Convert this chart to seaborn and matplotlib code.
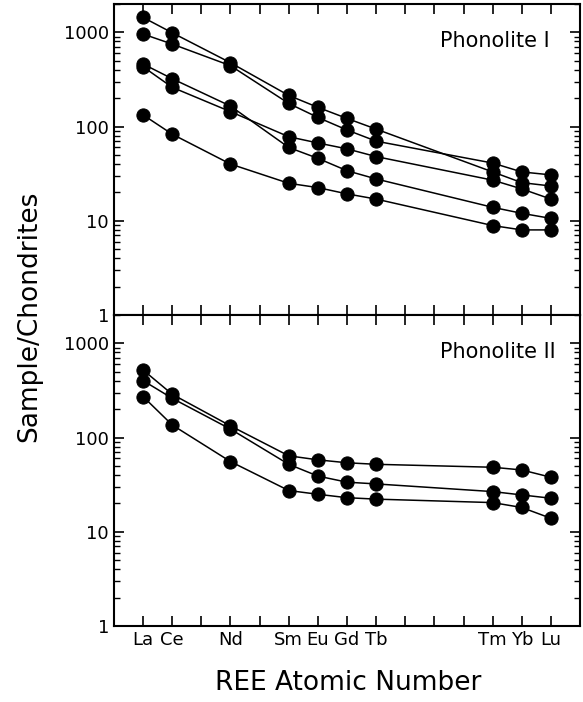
import numpy as np
import pandas as pd
import matplotlib
matplotlib.use("Agg")
import matplotlib.pyplot as plt
import seaborn as sns
from matplotlib.ticker import LogLocator, NullFormatter, FixedLocator

sns.set_style("ticks")
plt.rcParams['font.family'] = ['DejaVu Sans']
plt.rcParams['text.color'] = 'black'
plt.rcParams['xtick.color'] = 'black'
plt.rcParams['ytick.color'] = 'black'

# REE elements and their atomic numbers
elements = ["La", "Ce", "Nd", "Sm", "Eu", "Gd", "Tb", "Tm", "Yb", "Lu"]
atomic_no = [57, 58, 60, 62, 63, 64, 65, 69, 70, 71]

# Phonolite I (chondrite-normalised)
ph1_s1 = [1440, 990, 476, 214, 160, 122, 94, 33, 25.4, 23.4]
ph1_s2 = [959, 751, 443, 176, 125, 92, 70, 41, 33, 30.7]
ph1_s3 = [461, 322, 165, 60, 46, 34, 27.8, 13.9, 12, 10.6]
ph1_s4 = [431, 261, 144, 78, 67, 58, 48, 27, 21.8, 17]
ph1_s5 = [133, 83, 40, 25, 22.5, 19.3, 17, 8.9, 8.0, 8.0]

# Phonolite II
ph2_s1 = [521, 288, 133, 64, 58, 54, 52, 48.4, 45.3, 37.9]
ph2_s2 = [402, 261, 123, 52, 39, 33.6, 32.2, 26.7, 24.6, 22.7]
ph2_s3 = [272, 136, 55.6, 27.4, 25, 23, 22.2, 20.4, 18.1, 13.9]


def long_form(series_list):
    rows = []
    for i, vals in enumerate(series_list):
        for z, v in zip(atomic_no, vals):
            rows.append({"sample": i, "Z": z, "value": v})
    return pd.DataFrame(rows)


df1 = long_form([ph1_s1, ph1_s2, ph1_s3, ph1_s4, ph1_s5])
df2 = long_form([ph2_s1, ph2_s2, ph2_s3])

fig, axes = plt.subplots(2, 1, figsize=(5.83, 7.02), dpi=100, sharex=True)
fig.subplots_adjust(left=0.1955, right=0.9949, top=0.9943, bottom=0.1083, hspace=0)

for ax, df, name in zip(axes, [df1, df2], ["Phonolite I", "Phonolite II"]):
    sns.lineplot(data=df, x="Z", y="value", units="sample", estimator=None,
                 color="black", marker="o", markersize=9.5,
                 markeredgecolor="black", linewidth=1.1, ax=ax)
    ax.set_yscale("log")
    ax.set_ylim(1, 2000)
    ax.set_xlim(56, 72)
    ax.set_xlabel("")
    ax.set_ylabel("")
    ax.yaxis.set_major_locator(FixedLocator([1, 10, 100, 1000]))
    ax.set_yticklabels(["1", "10", "100", "1000"])
    ax.yaxis.set_minor_locator(LogLocator(base=10, subs=np.arange(2, 10)))
    ax.yaxis.set_minor_formatter(NullFormatter())
    ax.tick_params(axis="both", which="major", direction="in", length=7,
                   width=1.2, top=True, right=True, labelsize=13)
    ax.tick_params(axis="y", which="minor", direction="in", length=4,
                   width=1.0, right=True)
    for sp in ax.spines.values():
        sp.set_linewidth(1.5)
        sp.set_color("black")
    ax.text(0.70, 0.88, name, transform=ax.transAxes, ha="left",
            va="center", fontsize=15)

xt = list(range(56, 73))
xl = [elements[atomic_no.index(z)] if z in atomic_no else "" for z in xt]
axes[1].set_xticks(xt)
axes[1].set_xticklabels(xl)
axes[0].tick_params(axis="x", labelbottom=False)

fig.text(0.051, 0.55, "Sample/Chondrites", rotation=90, ha="center",
         va="center", fontsize=19)
fig.text(0.597, 0.027, "REE Atomic Number", ha="center", va="center",
         fontsize=19)

fig.savefig("out.png", dpi=100)
